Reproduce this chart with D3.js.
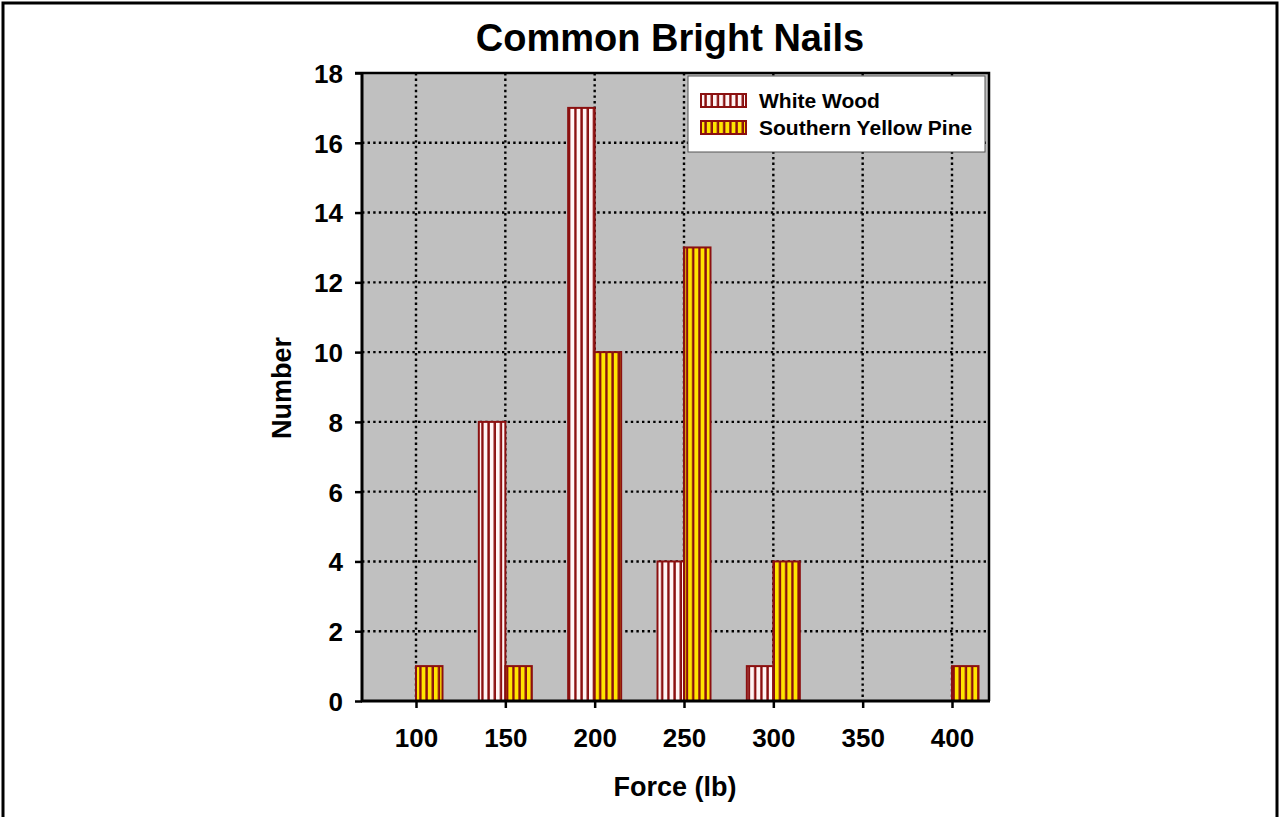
<!DOCTYPE html>
<meta charset="utf-8">
<title>Common Bright Nails</title>
<style>
body { margin: 0; background: #fff; }
text { font-family: "Liberation Sans", Arial, sans-serif; font-weight: bold; }
</style>
<script src="https://d3js.org/d3.v7.min.js"></script>
<div id="chart"></div>
<script>

// data
var forces = ["100", "150", "200", "250", "300", "350", "400"];
var whiteWood = [0, 8, 17, 4, 1, 0, 0];
var yellowPine = [1, 1, 10, 13, 4, 0, 1];
var yTicks = [0, 2, 4, 6, 8, 10, 12, 14, 16, 18];
var seriesNames = ["White Wood", "Southern Yellow Pine"];

var W = 1279, H = 817;
var plot = {left: 362, top: 73, right: 989, bottom: 701};

var svg = d3.select("#chart").append("svg")
  .attr("width", W).attr("height", H);

// stripe patterns for the bars
var defs = svg.append("defs");
function stripes(id, bg) {
  var p = defs.append("pattern")
    .attr("id", id)
    .attr("patternUnits", "userSpaceOnUse")
    .attr("width", 6.2).attr("height", 10);
  p.append("rect").attr("width", 6.2).attr("height", 10).attr("fill", bg);
  p.append("rect").attr("x", 3.8).attr("width", 2.4).attr("height", 10).attr("fill", "#8b1010");
}
stripes("wwPat", "#fff4f4");
stripes("syPat", "#ffe500");

// outer frame (no bottom edge)
svg.append("path")
  .attr("d", "M3," + H + "V3H1277V" + H)
  .attr("fill", "none").attr("stroke", "#000").attr("stroke-width", 3);

var x = d3.scalePoint()
  .domain(forces)
  .range([416, 952]);

var y = d3.scaleLinear()
  .domain([0, 18])
  .range([plot.bottom, plot.top]);

var barW = 26.5;

// plot background
svg.append("rect")
  .attr("x", plot.left).attr("y", plot.top)
  .attr("width", plot.right - plot.left).attr("height", plot.bottom - plot.top)
  .attr("fill", "#c0c0c0");

// dotted grid
var grid = svg.append("g")
  .attr("stroke", "#000").attr("stroke-width", 2.4)
  .attr("stroke-dasharray", "2.4,3.2");
grid.selectAll(".hg").data(yTicks.slice(1, -1)).enter().append("line")
  .attr("x1", plot.left).attr("x2", plot.right)
  .attr("y1", function(d) { return y(d); }).attr("y2", function(d) { return y(d); });
grid.selectAll(".vg").data(forces).enter().append("line")
  .attr("x1", function(d) { return x(d); }).attr("x2", function(d) { return x(d); })
  .attr("y1", plot.top).attr("y2", plot.bottom);

// bars
function drawBars(vals, pat, offset) {
  svg.append("g").selectAll("rect")
    .data(forces.map(function(f, i) { return {f: f, v: vals[i]}; }).filter(function(d) { return d.v > 0; }))
    .enter().append("rect")
    .attr("x", function(d) { return x(d.f) + offset; })
    .attr("y", function(d) { return y(d.v); })
    .attr("width", barW)
    .attr("height", function(d) { return y(0) - y(d.v); })
    .attr("fill", "url(#" + pat + ")")
    .attr("stroke", "#8b1010").attr("stroke-width", 2);
}
drawBars(whiteWood, "wwPat", -barW);
drawBars(yellowPine, "syPat", 0);

// plot frame: top and right
svg.append("path")
  .attr("d", "M" + plot.left + "," + plot.top + "H" + plot.right + "V" + plot.bottom)
  .attr("fill", "none").attr("stroke", "#000").attr("stroke-width", 2.5);

// axes
var yAxis = svg.append("g")
  .attr("transform", "translate(" + plot.left + ",0)")
  .call(d3.axisLeft(y).tickValues(yTicks).tickSize(7).tickPadding(12));
var xAxis = svg.append("g")
  .attr("transform", "translate(0," + plot.bottom + ")")
  .call(d3.axisBottom(x).tickSize(7).tickPadding(21));
[yAxis, xAxis].forEach(function(a) {
  a.select(".domain").remove();
  a.selectAll("line").attr("stroke", "#000").attr("stroke-width", 2.5);
  a.selectAll("text").attr("font-size", 26).attr("fill", "#000")
    .style("font-family", "'Liberation Sans', Arial, sans-serif");
});
yAxis.selectAll("text").attr("dy", "0.36em");
svg.append("line")
  .attr("x1", plot.left).attr("x2", plot.left)
  .attr("y1", plot.top - 1).attr("y2", plot.bottom + 1)
  .attr("stroke", "#000").attr("stroke-width", 3);
svg.append("line")
  .attr("x1", plot.left - 1).attr("x2", plot.right + 1)
  .attr("y1", plot.bottom).attr("y2", plot.bottom)
  .attr("stroke", "#000").attr("stroke-width", 3);
// y axis tick sticking out at the top
svg.append("line")
  .attr("x1", plot.left - 7).attr("x2", plot.left)
  .attr("y1", plot.top).attr("y2", plot.top)
  .attr("stroke", "#000").attr("stroke-width", 2.5);

// titles
svg.append("text")
  .attr("x", 670).attr("y", 51)
  .attr("text-anchor", "middle").attr("font-size", 38)
  .text("Common Bright Nails");
svg.append("text")
  .attr("x", 675).attr("y", 796)
  .attr("text-anchor", "middle").attr("font-size", 27)
  .text("Force (lb)");
svg.append("text")
  .attr("transform", "translate(291,388) rotate(-90)")
  .attr("text-anchor", "middle").attr("font-size", 27)
  .text("Number");

// legend
var lg = svg.append("g");
lg.append("rect")
  .attr("x", 688).attr("y", 76).attr("width", 297).attr("height", 76)
  .attr("fill", "#fff").attr("stroke", "#555").attr("stroke-width", 1);
seriesNames.forEach(function(name, i) {
  var yy = 94 + i * 27;
  lg.append("rect")
    .attr("x", 701).attr("y", yy).attr("width", 45).attr("height", 13)
    .attr("fill", "url(#" + (i === 0 ? "wwPat" : "syPat") + ")")
    .attr("stroke", "#8b1010").attr("stroke-width", 2);
  lg.append("text")
    .attr("x", 759).attr("y", yy + 14)
    .attr("font-size", 21)
    .text(name);
});

</script>
